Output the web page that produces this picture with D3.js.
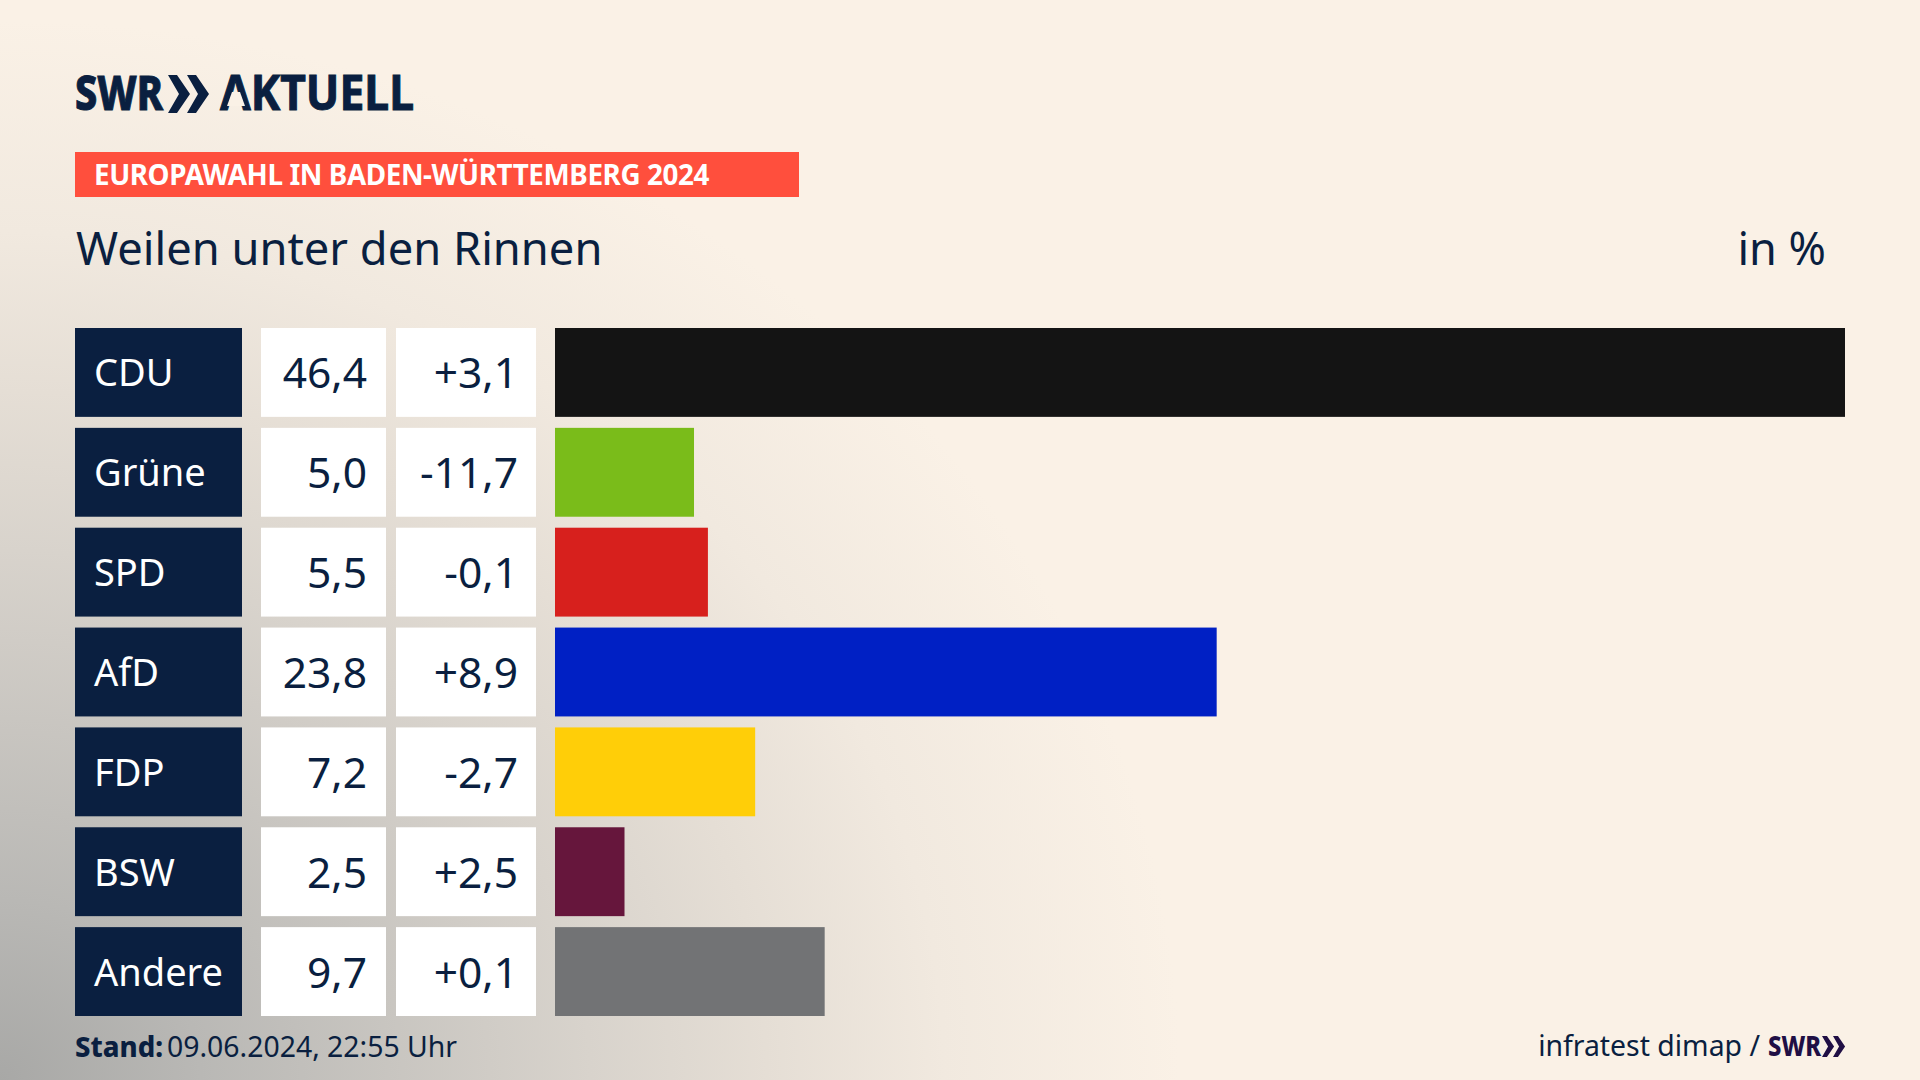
<!DOCTYPE html>
<html lang="de">

<head>
    <meta charset="utf-8">
    <script src="https://d3js.org/d3.v7.min.js"></script>
    <title>Europawahl in Baden-Württemberg 2024</title>
    <style>
        html, body {
            margin: 0;
            padding: 0;
            background: #faf1e6;
        }

        svg {
            display: block;
            font-family: "Noto Sans", sans-serif;
        }

        .navy {
            fill: #0a1f40;
        }
    </style>
</head>

<body>
    <svg id="chart" width="1920" height="1080"></svg>

    <script>
        const parties = ["CDU", "Grüne", "SPD", "AfD", "FDP", "BSW", "Andere"];
        const shares = [46.4, 5.0, 5.5, 23.8, 7.2, 2.5, 9.7];
        const changes = [3.1, -11.7, -0.1, 8.9, -2.7, 2.5, 0.1];
        const partyColors = ["#141414", "#7abc1a", "#d7201d", "#0020c4", "#ffce08", "#66163c", "#727375"];

        const width = 1920;
        const height = 1080;

        const de = d3.formatLocale({ decimal: ",", thousands: ".", grouping: [3], currency: ["", " €"], minus: "-" });
        const fmtShare = de.format(".1f");
        const fmtChange = de.format("+.1f");

        const svg = d3.select("#chart");
        const defs = svg.append("defs");

        // background: warm cream with a grey shade coming in from the lower left
        const shade = defs.append("radialGradient")
            .attr("id", "shade")
            .attr("gradientUnits", "userSpaceOnUse")
            .attr("cx", 0).attr("cy", 0).attr("r", 1)
            .attr("gradientTransform", `translate(0 ${height}) scale(1180 1060)`);
        shade.selectAll("stop")
            .data([[0, "#a8a8a6"], [0.17, "#b9b8b5"], [0.5, "#d8d3cc"], [0.65, "#e5ded5"], [0.8, "#f1e9df"], [1, "#faf1e6"]])
            .enter().append("stop")
            .attr("offset", d => d[0])
            .attr("stop-color", d => d[1]);

        svg.append("rect").attr("width", width).attr("height", height).attr("fill", "url(#shade)");

        // logo
        const chevron = "M0 0 L9 0 L22 19 L9 38 L0 38 L11 19 Z";
        svg.append("text").attr("class", "navy")
            .attr("x", 75).attr("y", 110)
            .attr("font-size", 48).attr("font-weight", 800)
            .attr("stroke", "#0a1f40").attr("stroke-width", 1)
            .attr("textLength", 88).attr("lengthAdjust", "spacingAndGlyphs")
            .text("SWR");
        [168, 187].forEach(px => {
            svg.append("path").attr("class", "navy").attr("d", chevron)
                .attr("transform", `translate(${px} 75)`);
        });
        svg.append("text").attr("class", "navy")
            .attr("x", 220).attr("y", 110)
            .attr("font-size", 48).attr("font-weight", 700)
            .attr("stroke", "#0a1f40").attr("stroke-width", 1)
            .attr("textLength", 194).attr("lengthAdjust", "spacingAndGlyphs")
            .text("AKTUELL");
        // the logo's A has no crossbar
        svg.append("path").attr("fill", "#faf1e6")
            .attr("d", "M232 92 L240 92 L245 106 L227 106 Z");

        // red label
        svg.append("rect").attr("x", 75).attr("y", 152).attr("width", 724).attr("height", 45).attr("fill", "#ff4f3d");
        svg.append("text")
            .attr("x", 94).attr("y", 185)
            .attr("font-size", 27.8).attr("font-weight", 700)
            .attr("fill", "#ffffff")
            .attr("letter-spacing", -0.4)
            .text("EUROPAWAHL IN BADEN-WÜRTTEMBERG 2024");

        // headline and unit
        svg.append("text").attr("class", "navy")
            .attr("x", 76).attr("y", 265)
            .attr("font-size", 45.3)
            .text("Weilen unter den Rinnen");
        svg.append("text").attr("class", "navy")
            .attr("x", 1826).attr("y", 265)
            .attr("font-size", 45)
            .attr("text-anchor", "end")
            .text("in %");

        // rows
        const y = d3.scaleBand().domain(parties).range([328, 1016]).paddingInner(0.11);
        const x = d3.scaleLinear().domain([0, 46.4]).range([555, 1845]);
        const color = d3.scaleOrdinal().domain(parties).range(partyColors);

        const rows = svg.selectAll(".row")
            .data(parties.map((p, i) => ({ party: p, share: shares[i], change: changes[i] })))
            .enter().append("g")
            .attr("class", "row")
            .attr("transform", d => `translate(0 ${y(d.party)})`);

        rows.append("rect").attr("x", 75).attr("width", 167).attr("height", y.bandwidth()).attr("class", "navy");
        rows.append("rect").attr("x", 261).attr("width", 125).attr("height", y.bandwidth()).attr("fill", "#ffffff");
        rows.append("rect").attr("x", 396).attr("width", 140).attr("height", y.bandwidth()).attr("fill", "#ffffff");
        rows.append("rect")
            .attr("x", x(0))
            .attr("width", d => x(d.share) - x(0))
            .attr("height", y.bandwidth())
            .attr("fill", d => color(d.party));

        const baseline = y.bandwidth() / 2 + 16;
        rows.append("text")
            .attr("x", 94).attr("y", baseline - 2)
            .attr("font-size", 38)
            .attr("fill", "#ffffff")
            .text(d => d.party);
        rows.append("text").attr("class", "navy")
            .attr("x", 367).attr("y", baseline)
            .attr("font-size", 42.5)
            .attr("text-anchor", "end")
            .text(d => fmtShare(d.share));
        rows.append("text").attr("class", "navy")
            .attr("x", 518).attr("y", baseline)
            .attr("font-size", 42.5)
            .attr("text-anchor", "end")
            .text(d => fmtChange(d.change));

        // footer
        svg.append("text").attr("class", "navy")
            .attr("x", 75).attr("y", 1057)
            .attr("font-size", 28).attr("font-weight", 800)
            .attr("textLength", 88).attr("lengthAdjust", "spacingAndGlyphs")
            .text("Stand:");
        svg.append("text").attr("class", "navy")
            .attr("x", 167).attr("y", 1057)
            .attr("font-size", 28.4)
            .text("09.06.2024, 22:55 Uhr");

        svg.append("text").attr("class", "navy")
            .attr("x", 1760).attr("y", 1056)
            .attr("font-size", 28.4)
            .attr("text-anchor", "end")
            .text("infratest dimap /");
        svg.append("text")
            .attr("x", 1768).attr("y", 1056)
            .attr("font-size", 28).attr("font-weight", 800)
            .attr("textLength", 53).attr("lengthAdjust", "spacingAndGlyphs")
            .attr("fill", "#200f45")
            .text("SWR");
        [1822, 1833].forEach(px => {
            svg.append("path").attr("d", chevron).attr("fill", "#200f45")
                .attr("transform", `translate(${px} 1036) scale(0.55)`);
        });
    </script>
</body>

</html>
